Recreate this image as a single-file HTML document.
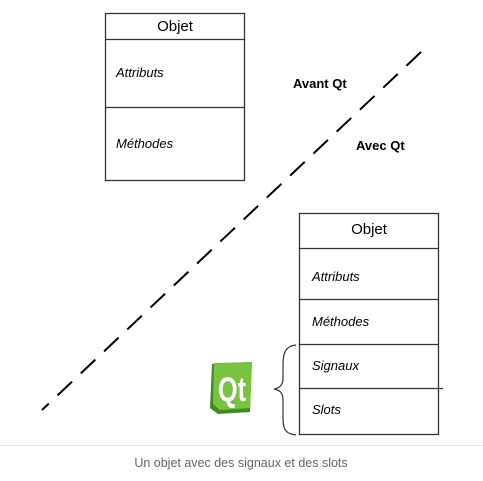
<!DOCTYPE html>
<html><head><meta charset="utf-8"><style>
html,body{margin:0;padding:0;background:#fff;width:483px;height:481px;overflow:hidden}
</style></head><body>
<svg width="483" height="481" viewBox="0 0 483 481" xmlns="http://www.w3.org/2000/svg" font-family="Liberation Sans, sans-serif">
<line x1="421" y1="52" x2="42" y2="410" stroke="#000" stroke-width="2" stroke-dasharray="20,12"/>
<g stroke="#333" stroke-width="1.3" fill="#fff">
<rect x="105.5" y="13.5" width="139" height="167"/>
<line x1="105" y1="39.5" x2="245" y2="39.5"/>
<line x1="105" y1="107.5" x2="245" y2="107.5"/>
<rect x="299.5" y="213.5" width="139" height="221"/>
<line x1="299" y1="248.5" x2="439" y2="248.5"/>
<line x1="299" y1="299.5" x2="439" y2="299.5"/>
<line x1="299" y1="344.5" x2="439" y2="344.5"/>
<line x1="299" y1="388.5" x2="443" y2="388.5"/>
</g>
<g font-size="14" fill="#000">
<text x="175" y="31" text-anchor="middle" font-size="15">Objet</text>
<text x="116" y="77" font-style="italic" font-size="13">Attributs</text>
<text x="116" y="148" font-style="italic" font-size="13">Méthodes</text>
<text x="369" y="234" text-anchor="middle" font-size="15">Objet</text>
<text x="312" y="281" font-style="italic" font-size="13">Attributs</text>
<text x="312" y="326" font-style="italic" font-size="13">Méthodes</text>
<text x="312" y="370" font-style="italic" font-size="13">Signaux</text>
<text x="312" y="414" font-style="italic" font-size="13">Slots</text>
<text x="293" y="88" font-weight="bold" font-size="13">Avant Qt</text>
<text x="356" y="150" font-weight="bold" font-size="13">Avec Qt</text>
</g>
<path d="M296,345 C286,346 283,352 283,365 L283,378 C283,385 280,388 274,389 C280,390 283,393 283,400 L283,418 C283,430 286,434 296,435" fill="none" stroke="#333" stroke-width="1.2"/>
<path d="M212,364 L252,362 L250,412 L218,414 L210,408 Z" fill="#3f8b24"/>
<path d="M214,363 L252,362 L250,408 L220,410 L213,404 Z" fill="#7cc242"/>
<text x="232" y="401" text-anchor="middle" font-size="34" font-weight="bold" fill="#fff" textLength="28" lengthAdjust="spacingAndGlyphs">Qt</text>
<line x1="0" y1="445.5" x2="483" y2="445.5" stroke="#e6e6e6" stroke-width="1"/>
<text x="241" y="467" text-anchor="middle" font-size="12.5" fill="#666">Un objet avec des signaux et des slots</text>
</svg>
</body></html>
